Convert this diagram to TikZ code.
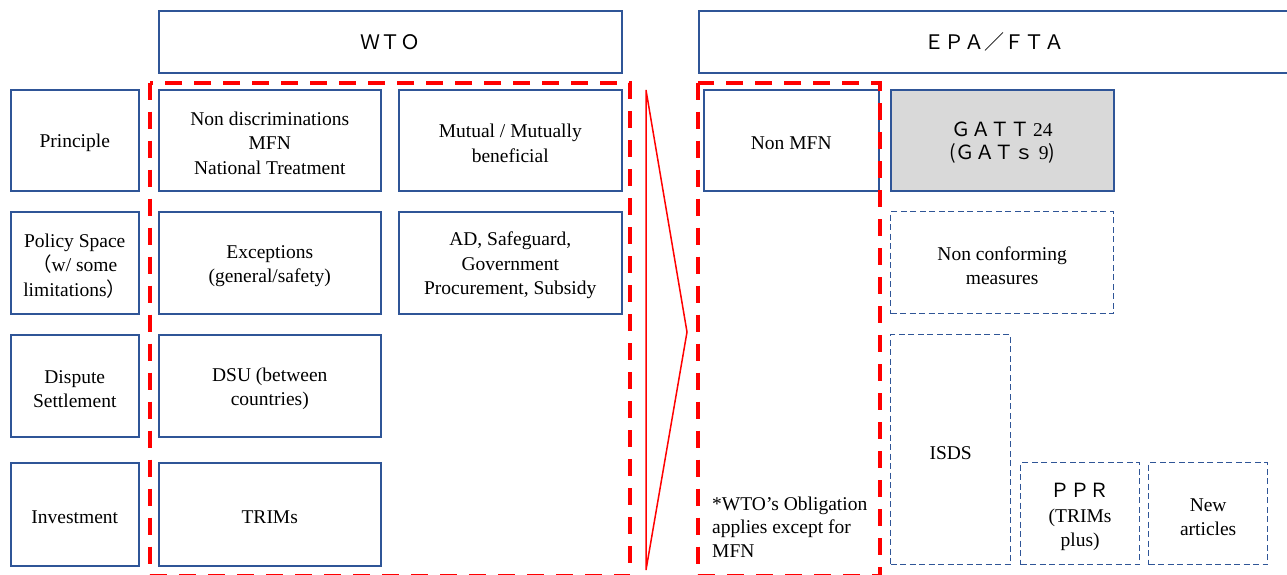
\documentclass[tikz,border=0pt]{standalone}
\usepackage{fontspec}
\setmainfont{Liberation Serif}
\newfontfamily\jp{Noto Sans CJK JP}
\newcommand\tstrut{\rule{0pt}{19.5pt}}
\newcommand\tstrutb{\rule{0pt}{21.5pt}}
\definecolor{bordblue}{HTML}{2F5597}
\definecolor{gatgray}{HTML}{D9D9D9}
\begin{document}
\begin{tikzpicture}[x=1pt,y=-1pt,
  box/.style={draw=bordblue, line width=1.5pt, fill=white, align=center,
    inner sep=2pt, anchor=north west, font=\fontsize{19.5}{24.5}\selectfont},
  dbox/.style={box, line width=1.3pt, dash pattern=on 6pt off 3.5pt},
  hdr/.style={box, font=\jp\fontsize{20}{24}\selectfont},
  reddash/.style={draw=red, line width=4pt, dash pattern=on 17pt off 12pt},
  note/.style={align=left, inner sep=0pt, anchor=north west,
    font=\fontsize{19.5}{23.5}\selectfont}]
\useasboundingbox (0,0) rectangle (1287,574);
\clip (0,0) rectangle (1287,574);
\fill[white] (0,0) rectangle (1287,574);
% headers
\node[hdr, minimum width=463pt, minimum height=62pt] (wto) at (158,10) {ＷＴＯ};
\node[hdr, minimum width=592pt, minimum height=62pt] (epa) at (698,10) {ＥＰＡ／ＦＴＡ};
% row labels
\node[box, minimum width=128pt, minimum height=101pt] (l1) at (10,89) {\tstrut Principle};
\node[box, minimum width=128pt, minimum height=102pt] (l2) at (10,211) {\tstrut Policy Space\\{\jp （}w/ some\\limitations{\jp ）}};
\node[box, minimum width=128pt, minimum height=102pt] (l3) at (10,334) {\tstrut Dispute\\Settlement};
\node[box, minimum width=128pt, minimum height=103pt] (l4) at (10,462) {\tstrut Investment};
% WTO column 1
\node[box, minimum width=222pt, minimum height=101pt] (a1) at (158,89) {\tstrut Non discriminations\\MFN\\National Treatment};
\node[box, minimum width=222pt, minimum height=102pt] (a2) at (158,211) {\tstrut Exceptions\\(general/safety)};
\node[box, minimum width=222pt, minimum height=102pt] (a3) at (158,334) {\tstrut DSU (between\\countries)};
\node[box, minimum width=222pt, minimum height=103pt] (a4) at (158,462) {\tstrut TRIMs};
% WTO column 2
\node[box, minimum width=223pt, minimum height=101pt] (b1) at (398,89) {\tstrut Mutual / Mutually\\beneficial};
\node[box, minimum width=223pt, minimum height=102pt] (b2) at (398,211) {\tstrut AD, Safeguard,\\Government\\Procurement, Subsidy};
% EPA side
\node[box, minimum width=175pt, minimum height=101pt] (nm) at (703,89) {\tstrut Non MFN};
\node[box, fill=gatgray, minimum width=223pt, minimum height=101pt, font=\fontsize{19.5}{23}\selectfont] (gatt) at (890,89) {\tstrut{\jp ＧＡＴＴ}\,24\\{\jp (ＧＡＴｓ} 9{\jp )}};
\node[dbox, minimum width=223pt, minimum height=102pt] (ncm) at (890,211) {\tstrut Non conforming\\measures};
\node[dbox, minimum width=120pt, minimum height=230pt] (isds) at (890,334) {\tstrut ISDS};
\node[dbox, minimum width=119pt, minimum height=102pt] (ppr) at (1020,462) {\tstrutb{\jp ＰＰＲ}\\(TRIMs\\plus)};
\node[dbox, minimum width=119pt, minimum height=102pt] (new) at (1148,462) {\tstrut New\\articles};
\node[note] (fn) at (712,496.5) {*WTO’s Obligation\\applies except for\\MFN};
% chevron
\draw[red, line width=1.5pt, line join=miter] (646,90) -- (687,332) -- (646,570) -- cycle;
% red dashed groups
\draw[reddash] (150,82.5) rectangle (630,575.5);
\draw[reddash] (698,82.5) rectangle (880,575.5);
\end{tikzpicture}
\end{document}
